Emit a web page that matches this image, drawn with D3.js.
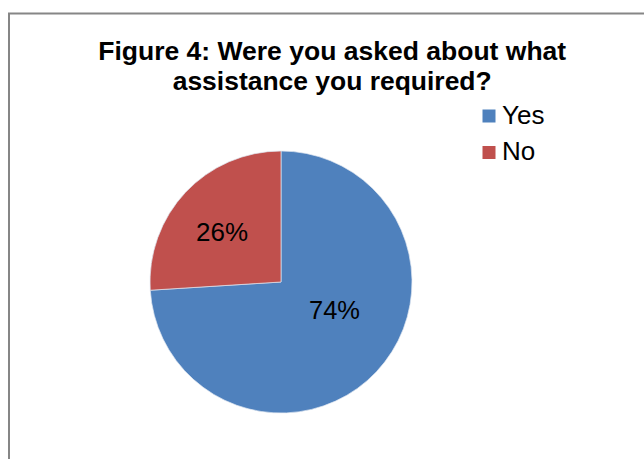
<!DOCTYPE html>
<html><head><meta charset="utf-8">
<script src="https://cdn.jsdelivr.net/npm/d3@7"></script>
<style>html,body{margin:0;padding:0;background:#fff;overflow:hidden}</style>
</head><body>
<script>
const categories = ["Yes", "No"];
const values = [74, 26];
const colors = ["#4F81BD", "#C0504D"];
const titleLines = ["Figure 4: Were you asked about what", "assistance you required?"];

const W = 644, H = 459;
const svg = d3.select("body").append("svg").attr("width", W).attr("height", H);

svg.append("rect").attr("x", 9).attr("y", 13.5).attr("width", 700).attr("height", 500)
  .attr("fill", "#fff").attr("stroke", "#868686").attr("stroke-width", 2);

const font = "Liberation Sans, Arial, sans-serif";
const titleW = [468, 319];
const titleY = [59.5, 90];
titleLines.forEach((t, i) => {
  svg.append("text").attr("x", 332.2).attr("y", titleY[i]).attr("text-anchor", "middle")
    .attr("font-family", font).attr("font-weight", "bold").attr("font-size", 26.5)
    .attr("textLength", titleW[i]).attr("lengthAdjust", "spacingAndGlyphs")
    .attr("fill", "#000").text(t);
});

const cx = 281, cy = 282, r = 131;
const pie = d3.pie().sort(null).value(d => d)(values);
const arc = d3.arc().innerRadius(0).outerRadius(r);
const g = svg.append("g").attr("transform", `translate(${cx},${cy})`);
g.selectAll("path").data(pie).join("path").attr("d", arc)
  .attr("fill", (d, i) => colors[i]).attr("stroke", "#dfe6f0").attr("stroke-width", 0.7);

const total = d3.sum(values);
const labelPos = [[334.5, 318.5], [222, 241.2]];
const labelW = [51, 52];
g.selectAll("text.lbl").data(pie).join("text").attr("class", "lbl")
  .attr("x", (d, i) => labelPos[i][0] - cx).attr("y", (d, i) => labelPos[i][1] - cy)
  .attr("text-anchor", "middle").attr("font-family", font).attr("font-size", 26)
  .attr("textLength", (d, i) => labelW[i]).attr("lengthAdjust", "spacingAndGlyphs")
  .attr("fill", "#000").text(d => Math.round(d.value / total * 100) + "%");

const leg = svg.append("g");
categories.forEach((c, i) => {
  const y = 109.5 + i * 36.5;
  leg.append("rect").attr("x", 482.5).attr("y", y).attr("width", 13).attr("height", 13).attr("fill", colors[i]);
  leg.append("text").attr("x", 502).attr("y", y + 14).attr("font-family", font).attr("font-size", 26)
    .attr("fill", "#000").text(c);
});
</script>
</body></html>
